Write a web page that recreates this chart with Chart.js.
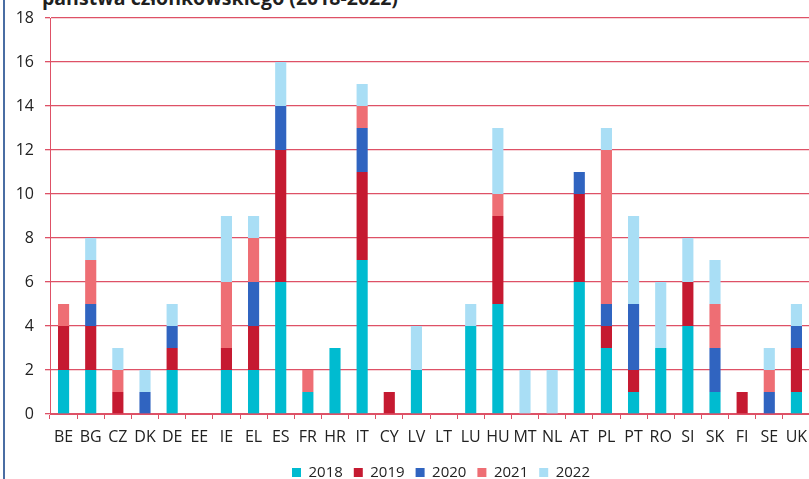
<!DOCTYPE html>
<html>
<head>
<meta charset="utf-8">
<script src="https://cdn.jsdelivr.net/npm/chart.js@4/dist/chart.umd.min.js"></script>
<style>
    html, body {
        margin: 0;
        padding: 0;
        background: #FFFFFF;
    }
    #wrap {
        position: relative;
        width: 809px;
        height: 479px;
        overflow: hidden;
    }
    #title {
        position: absolute;
        left: 42px;
        top: -16px;
        font: bold 19.5px "Open Sans", sans-serif;
        color: #1F1F1F;
        white-space: nowrap;
    }
    #edge {
        position: absolute;
        left: 3px;
        top: 0;
        width: 2px;
        height: 479px;
        background: #4A6DA3;
    }
    #box {
        position: absolute;
        left: 0;
        top: 0;
        width: 882px;
        height: 490px;
    }
</style>
</head>
<body>
<div id="wrap">
    <div id="title">państwa członkowskiego (2018-2022)</div>
    <div id="edge"></div>
    <div id="box"><canvas id="stackChart"></canvas></div>
</div>
<script>
// =====================================================
// Data
// =====================================================

const countries = ['BE', 'BG', 'CZ', 'DK', 'DE', 'EE', 'IE', 'EL', 'ES', 'FR', 'HR', 'IT', 'CY', 'LV',
    'LT', 'LU', 'HU', 'MT', 'NL', 'AT', 'PL', 'PT', 'RO', 'SI', 'SK', 'FI', 'SE', 'UK'];

const years = ['2018', '2019', '2020', '2021', '2022'];

const values2018 = [2, 2, 0, 0, 2, 0, 2, 2, 6, 1, 3, 7, 0, 2, 0, 4, 5, 0, 0, 6, 3, 1, 3, 4, 1, 0, 0, 1];
const values2019 = [2, 2, 1, 0, 1, 0, 1, 2, 6, 0, 0, 4, 1, 0, 0, 0, 4, 0, 0, 4, 1, 1, 0, 2, 0, 1, 0, 2];
const values2020 = [0, 1, 0, 1, 1, 0, 0, 2, 2, 0, 0, 2, 0, 0, 0, 0, 0, 0, 0, 1, 1, 3, 0, 0, 2, 0, 1, 1];
const values2021 = [1, 2, 1, 0, 0, 0, 3, 2, 0, 1, 0, 1, 0, 0, 0, 0, 1, 0, 0, 0, 7, 0, 0, 0, 2, 0, 1, 0];
const values2022 = [0, 1, 1, 1, 1, 0, 3, 1, 2, 0, 0, 1, 0, 2, 0, 1, 3, 2, 2, 0, 1, 4, 3, 2, 2, 0, 1, 1];

const yearColors = ['#00BBD0', '#C51A31', '#3064C0', '#EE6E74', '#A9DEF5'];

const yTicks = [0, 2, 4, 6, 8, 10, 12, 14, 16, 18];

// =====================================================
// Chart
// =====================================================

const redLine = '#DE5166';
const fontFamily = '"Open Sans", sans-serif';

const seriesValues = [values2018, values2019, values2020, values2021, values2022];

const datasets = years.map((year, i) => ({
    label: year,
    data: seriesValues[i],
    backgroundColor: yearColors[i],
    borderWidth: 0,
    barPercentage: 0.41,
    categoryPercentage: 1.0
}));

new Chart(document.getElementById('stackChart'), {
    type: 'bar',
    data: {
        labels: countries,
        datasets: datasets
    },
    options: {
        responsive: true,
        maintainAspectRatio: false,
        animation: false,
        layout: {
            padding: { top: 18, left: 0, right: 0, bottom: 0 }
        },
        plugins: {
            legend: {
                position: 'bottom',
                labels: {
                    boxWidth: 9,
                    boxHeight: 9,
                    padding: 11,
                    color: '#222222',
                    font: { family: fontFamily, size: 15 }
                }
            },
            tooltip: { enabled: false }
        },
        scales: {
            x: {
                stacked: true,
                grid: {
                    display: true,
                    offset: true,
                    drawOnChartArea: false,
                    drawTicks: true,
                    tickLength: 5,
                    color: redLine
                },
                border: { display: true, color: redLine },
                ticks: {
                    color: '#222222',
                    padding: 9,
                    maxRotation: 0,
                    autoSkip: false,
                    font: { family: fontFamily, size: 16 }
                },
                afterFit: function(scale) {
                    scale.height = 40;
                }
            },
            y: {
                stacked: true,
                min: 0,
                max: 18,
                afterBuildTicks: function(scale) {
                    scale.ticks = yTicks.map(v => ({ value: v }));
                },
                grid: {
                    color: redLine,
                    tickLength: 5,
                    lineWidth: 1.3
                },
                border: { display: true, color: redLine },
                ticks: {
                    color: '#222222',
                    padding: 11,
                    font: { family: fontFamily, size: 16 }
                },
                afterFit: function(scale) {
                    // fixed axis width, top edge left to the layout padding
                    scale.width = 50;
                    scale.paddingTop = 0;
                }
            },
            spare: {
                position: 'right',
                display: true,
                grid: { display: false },
                border: { display: false },
                ticks: { display: false },
                afterFit: function(scale) {
                    scale.width = 72;
                }
            }
        }
    }
});
</script>
</body>
</html>
